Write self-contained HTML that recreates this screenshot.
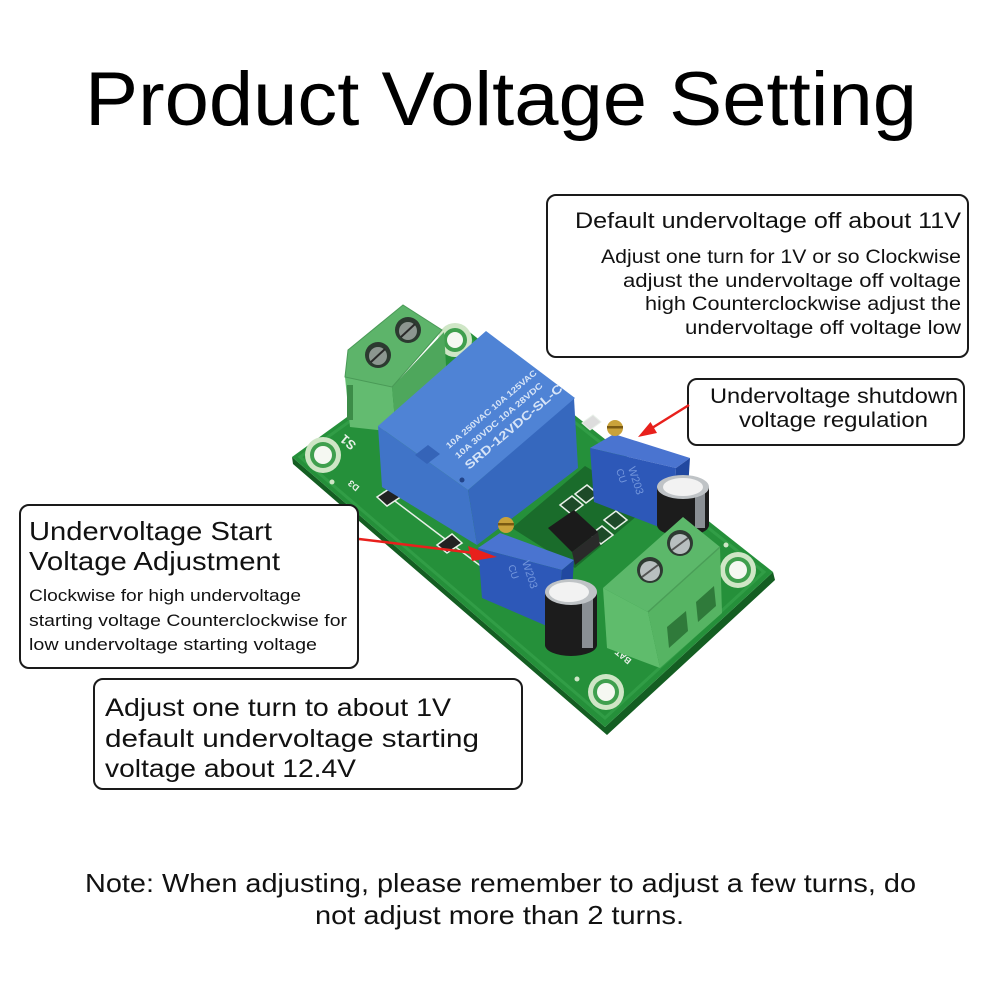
<!DOCTYPE html>
<html>
<head>
<meta charset="utf-8">
<style>
html,body{margin:0;padding:0;background:#fff;}
svg{display:block;}
text{font-family:"Liberation Sans","DejaVu Sans",sans-serif;fill:#111;}
</style>
</head>
<body>
<svg width="1000" height="1000" viewBox="0 0 1000 1000" xmlns="http://www.w3.org/2000/svg">
<rect x="0" y="0" width="1000" height="1000" fill="#fff"/>

<!-- Title -->
<text x="85" y="125" font-size="76" textLength="832" lengthAdjust="spacingAndGlyphs" style="fill:#000">Product Voltage Setting</text>

<!-- ===== PCB ===== -->
<polygon points="292,457 605,727 773,572 775,580 607,735 293,464" fill="#145e22"/>
<polygon points="292,457 467,330 773,572 605,727" fill="#25903a"/>
<polygon points="300,457 467,337 764,572 605,718" fill="none" stroke="#3aa64e" stroke-width="3" opacity="0.6"/>
<polygon points="512,528 585,466 650,505 575,568" fill="#1a6c2b"/>

<!-- holes -->
<g>
<circle cx="323" cy="455" r="18" fill="#cfe6c6"/><circle cx="323" cy="455" r="13" fill="#3f9f4e"/><circle cx="323" cy="455" r="9" fill="#f5f8f2"/>
<circle cx="455" cy="340" r="17" fill="#cfe6c6"/><circle cx="455" cy="340" r="12" fill="#3f9f4e"/><circle cx="455" cy="340" r="8" fill="#f5f8f2"/>
<circle cx="738" cy="570" r="18" fill="#cfe6c6"/><circle cx="738" cy="570" r="13" fill="#3f9f4e"/><circle cx="738" cy="570" r="9" fill="#f5f8f2"/>
<circle cx="606" cy="692" r="18" fill="#cfe6c6"/><circle cx="606" cy="692" r="13" fill="#3f9f4e"/><circle cx="606" cy="692" r="9" fill="#f5f8f2"/>
<circle cx="332" cy="482" r="2.5" fill="#cfe6c6"/>
<circle cx="577" cy="679" r="2.5" fill="#cfe6c6"/>
<circle cx="726" cy="545" r="2.5" fill="#cfe6c6"/>
</g>

<!-- silkscreen -->
<text x="0" y="0" font-size="13" font-weight="bold" transform="translate(357,444) rotate(-140)" style="fill:#e8f0e8">S1</text>
<text x="0" y="0" font-size="9" font-weight="bold" transform="translate(360,487) rotate(-140)" style="fill:#e8f0e8">D3</text>
<text x="0" y="0" font-size="9" font-weight="bold" transform="translate(632,660) rotate(-140)" style="fill:#e8f0e8">BAT +</text>
<line x1="383" y1="492" x2="486" y2="570" stroke="#e8f0e8" stroke-width="1.5"/>
<polygon points="377,497 392,487 402,496 387,506" fill="#222" stroke="#e8f0e8" stroke-width="1.5"/>
<polygon points="437,545 452,534 462,543 447,553" fill="#222" stroke="#e8f0e8" stroke-width="1.5"/>
<polygon points="575,494 587,485 598,494 586,503" fill="#1d4a28" stroke="#e8f0e8" stroke-width="1.5"/>
<polygon points="560,505 572,496 583,505 571,514" fill="#1d4a28" stroke="#e8f0e8" stroke-width="1.5"/>
<polygon points="604,520 616,511 627,520 615,529" fill="#1d4a28" stroke="#e8f0e8" stroke-width="1.5"/>
<polygon points="590,535 602,526 613,535 601,544" fill="#1d4a28" stroke="#e8f0e8" stroke-width="1.5"/>
<polygon points="582,423 593,415 601,422 590,430" fill="#ddd" stroke="#e8f0e8" stroke-width="1"/>
<!-- IC -->
<polygon points="548,528 574,510 598,532 572,552" fill="#1b1b1b"/>
<polygon points="572,552 598,532 600,545 575,565" fill="#2a2a2a"/>

<!-- top-left terminal block -->
<polygon points="345,377 392,387 396,432 350,427" fill="#63bb70"/>
<polygon points="392,387 444,332 448,398 396,432" fill="#4ea75c"/>
<polygon points="348,350 403,305 442,330 392,387 345,377" fill="#5db46a"/>
<polygon points="348,350 403,305 442,330 392,387 345,377" fill="none" stroke="#4a9a57" stroke-width="1"/>
<circle cx="378" cy="355" r="13" fill="#2c3a30"/><circle cx="378" cy="356" r="9" fill="#8c9690"/><line x1="371" y1="362" x2="385" y2="349" stroke="#2a2a2a" stroke-width="2"/>
<circle cx="408" cy="330" r="13" fill="#2c3a30"/><circle cx="408" cy="331" r="9" fill="#8c9690"/><line x1="401" y1="337" x2="415" y2="324" stroke="#2a2a2a" stroke-width="2"/>
<rect x="347" y="385" width="6" height="35" fill="#3c8c48"/>

<!-- relay -->
<polygon points="378,426 468,490 477,545 382,487" fill="#4074c8"/>
<polygon points="468,490 574,398 578,468 477,545" fill="#3668be"/>
<polygon points="378,426 486,331 575,398 468,490" fill="#4f83d5"/>
<polygon points="415,455 428,445 440,454 427,464" fill="#3564b8"/>
<circle cx="462" cy="480" r="2.5" fill="#22448a"/>
<g font-weight="bold">
<text x="0" y="0" font-size="8.5" textLength="116" lengthAdjust="spacingAndGlyphs" transform="translate(449,449) rotate(-40.4)" style="fill:#d6e4f7">10A 250VAC 10A 125VAC</text>
<text x="0" y="0" font-size="8.5" textLength="112" lengthAdjust="spacingAndGlyphs" transform="translate(458,459) rotate(-40.4)" style="fill:#d6e4f7">10A  30VDC 10A 28VDC</text>
<text x="0" y="0" font-size="12" textLength="124" lengthAdjust="spacingAndGlyphs" transform="translate(469,470) rotate(-40.4)" style="fill:#d6e4f7">SRD-12VDC-SL-C</text>
</g>

<!-- pot 1 (cube) -->
<polygon points="590,448 614,434 690,458 676,468" fill="#4a74d0"/>
<polygon points="590,448 676,468 672,532 594,502" fill="#2d58b8"/>
<polygon points="676,468 690,458 686,520 672,532" fill="#2148a0"/>
<text x="0" y="0" font-size="11" transform="translate(628,468) rotate(72)" style="fill:#7396dc">W203</text>
<text x="0" y="0" font-size="10" transform="translate(616,470) rotate(72)" style="fill:#7396dc">CU</text>
<circle cx="615" cy="428" r="8" fill="#c9a23a"/><rect x="607" y="426" width="16" height="2.5" fill="#7a5a12"/>

<!-- cap 1 -->
<path d="M657,487 L657,525 A26,11 0 0 0 709,525 L709,487 Z" fill="#1c1c1c"/>
<rect x="695" y="490" width="10" height="38" fill="#8a8f94"/>
<ellipse cx="683" cy="487" rx="26" ry="12" fill="#bfc3c6"/>
<ellipse cx="683" cy="487" rx="20" ry="9" fill="#f2f2f2"/>

<!-- pot 2 (cube) -->
<polygon points="478,548 500,533 574,560 562,570" fill="#4a74d0"/>
<polygon points="478,548 562,570 556,630 482,598" fill="#2d58b8"/>
<polygon points="562,570 574,560 570,620 556,630" fill="#2148a0"/>
<text x="0" y="0" font-size="11" transform="translate(522,562) rotate(72)" style="fill:#7396dc">W203</text>
<text x="0" y="0" font-size="10" transform="translate(508,566) rotate(72)" style="fill:#7396dc">CU</text>
<circle cx="506" cy="525" r="8" fill="#c9a23a"/><rect x="498" y="523" width="16" height="2.5" fill="#7a5a12"/>

<!-- cap 2 -->
<path d="M545,592 L545,645 A26,11 0 0 0 597,645 L597,592 Z" fill="#1c1c1c"/>
<rect x="582" y="596" width="11" height="52" fill="#8a8f94"/>
<ellipse cx="571" cy="592" rx="26" ry="13" fill="#bfc3c6"/>
<ellipse cx="569" cy="592" rx="20" ry="10" fill="#f2f2f2"/>

<!-- bottom-right terminal block -->
<polygon points="603,588 648,612 660,668 607,648" fill="#5fbc6c"/>
<polygon points="648,612 720,547 722,613 660,668" fill="#56b463"/>
<polygon points="603,588 683,517 720,547 648,612" fill="#5cb86a"/>
<polyline points="648,612 720,547" fill="none" stroke="#4a9e57" stroke-width="1.5"/>
<polygon points="667,627 686,611 688,631 669,648" fill="#2f7a3a"/>
<polygon points="696,602 714,586 716,606 698,622" fill="#2f7a3a"/>
<circle cx="680" cy="543" r="13" fill="#2e3a32"/><circle cx="680" cy="544" r="10" fill="#b8bfc0"/><line x1="672" y1="550" x2="688" y2="538" stroke="#555" stroke-width="2"/>
<circle cx="650" cy="570" r="13" fill="#2e3a32"/><circle cx="650" cy="571" r="10" fill="#b8bfc0"/><line x1="642" y1="577" x2="658" y2="565" stroke="#555" stroke-width="2"/>

<!-- ===== Boxes ===== -->
<rect x="547" y="195" width="421" height="162" rx="9" ry="9" fill="#fff" stroke="#1a1a1a" stroke-width="2"/>
<text x="575" y="228" font-size="22" textLength="386" lengthAdjust="spacingAndGlyphs">Default undervoltage off about 11V</text>
<text x="601" y="263" font-size="19" textLength="360" lengthAdjust="spacingAndGlyphs">Adjust one turn for 1V or so Clockwise</text>
<text x="623" y="287" font-size="19" textLength="338" lengthAdjust="spacingAndGlyphs">adjust the undervoltage off voltage</text>
<text x="645" y="310" font-size="19" textLength="316" lengthAdjust="spacingAndGlyphs">high Counterclockwise adjust the</text>
<text x="685" y="334" font-size="19" textLength="276" lengthAdjust="spacingAndGlyphs">undervoltage off voltage low</text>

<rect x="688" y="379" width="276" height="66" rx="9" ry="9" fill="#fff" stroke="#1a1a1a" stroke-width="2"/>
<text x="710" y="403" font-size="21" textLength="248" lengthAdjust="spacingAndGlyphs">Undervoltage shutdown</text>
<text x="739" y="427" font-size="21" textLength="189" lengthAdjust="spacingAndGlyphs">voltage regulation</text>

<rect x="20" y="505" width="338" height="163" rx="9" ry="9" fill="#fff" stroke="#1a1a1a" stroke-width="2"/>
<text x="29" y="540" font-size="26" textLength="243" lengthAdjust="spacingAndGlyphs">Undervoltage Start</text>
<text x="29" y="570" font-size="26" textLength="251" lengthAdjust="spacingAndGlyphs">Voltage Adjustment</text>
<text x="29" y="601" font-size="17" textLength="272" lengthAdjust="spacingAndGlyphs">Clockwise for high undervoltage</text>
<text x="29" y="626" font-size="17" textLength="318" lengthAdjust="spacingAndGlyphs">starting voltage Counterclockwise for</text>
<text x="29" y="650" font-size="17" textLength="288" lengthAdjust="spacingAndGlyphs">low undervoltage starting voltage</text>

<rect x="94" y="679" width="428" height="110" rx="9" ry="9" fill="#fff" stroke="#1a1a1a" stroke-width="2"/>
<text x="105" y="716" font-size="25" textLength="346" lengthAdjust="spacingAndGlyphs">Adjust one turn to about 1V</text>
<text x="105" y="747" font-size="25" textLength="374" lengthAdjust="spacingAndGlyphs">default undervoltage starting</text>
<text x="105" y="777" font-size="25" textLength="251" lengthAdjust="spacingAndGlyphs">voltage about 12.4V</text>

<!-- ===== Red arrows ===== -->
<line x1="689" y1="405" x2="652" y2="428" stroke="#e8201c" stroke-width="2.5"/>
<polygon points="638,437 650.5,422 657,433" fill="#e8201c"/>
<line x1="359" y1="539" x2="474" y2="553" stroke="#e8201c" stroke-width="2.5"/>
<polygon points="497,557 468,546 472,561" fill="#e8201c"/>

<!-- Note -->
<text x="85" y="892" font-size="26" textLength="831" lengthAdjust="spacingAndGlyphs">Note: When adjusting, please remember to adjust a few turns, do</text>
<text x="315" y="924" font-size="26" textLength="369" lengthAdjust="spacingAndGlyphs">not adjust more than 2 turns.</text>
</svg>
</body>
</html>
